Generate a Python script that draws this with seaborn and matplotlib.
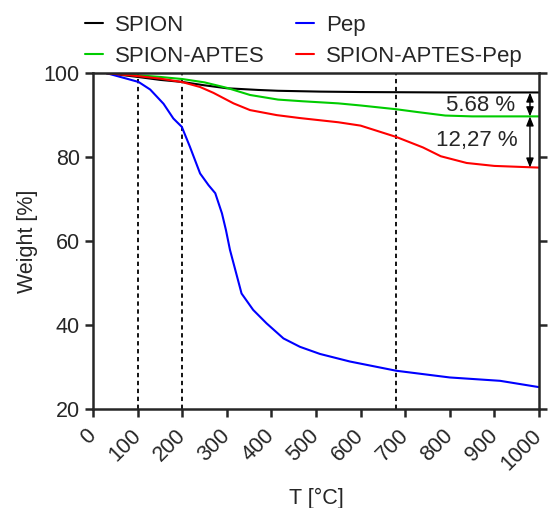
import matplotlib
matplotlib.use("Agg")
import matplotlib.pyplot as plt
import seaborn as sns
import pandas as pd

sns.set_style("ticks")
plt.rcParams['font.family'] = ['Liberation Sans', 'DejaVu Sans']

# Data
spion_T = [30, 100, 150, 200, 250, 300, 370, 415, 510, 600, 700, 800, 1000]
spion_W = [100, 99.1, 98.4, 97.9, 97.1, 96.4, 96.0, 95.8, 95.6, 95.5, 95.45, 95.4, 95.4]

aptes_T = [30, 100, 150, 200, 250, 277, 300, 352, 415, 470, 550, 600, 680, 730, 790, 850, 1000]
aptes_W = [100, 99.5, 99.1, 98.6, 97.8, 97.1, 96.5, 94.8, 93.7, 93.3, 92.8, 92.3, 91.4, 90.7, 89.9, 89.7, 89.7]

pep_T = [30, 68, 102, 128, 158, 180, 199, 217, 240, 259, 274, 289, 298, 307, 315, 333,
         359, 389, 427, 464, 509, 576, 680, 800, 913, 1000]
pep_W = [100, 98.9, 97.9, 96.1, 92.7, 89.2, 87.2, 82.5, 76.1, 73.3, 71.4, 66.6, 62.6, 57.9,
         54.7, 47.5, 43.6, 40.4, 36.8, 34.8, 33.1, 31.3, 29.1, 27.5, 26.7, 25.2]

red_T = [30, 100, 150, 199, 240, 270, 315, 352, 412, 464, 550, 600, 680, 740, 780, 838, 900, 1000]
red_W = [100, 99.3, 98.7, 97.9, 96.7, 95.3, 92.8, 91.2, 90.0, 89.3, 88.3, 87.5, 84.8, 82.3, 80.2, 78.6, 77.9, 77.5]

vlines_T = [100, 200, 680]
x_ticks = list(range(0, 1001, 100))
y_ticks = [20, 40, 60, 80, 100]
loss1_label = "5.68 %"
loss2_label = "12,27 %"
levels = [95.4, 89.7, 77.5]

series = [("SPION", spion_T, spion_W, "black"),
          ("SPION-APTES", aptes_T, aptes_W, "#00cc00"),
          ("Pep", pep_T, pep_W, "#0000ff"),
          ("SPION-APTES-Pep", red_T, red_W, "#ff0000")]

frames = []
for name, T, W, _ in series:
    frames.append(pd.DataFrame({"T": T, "W": W, "sample": name}))
df = pd.concat(frames, ignore_index=True)
palette = {name: c for name, _, _, c in series}

fig = plt.figure(figsize=(5.51, 5.08), dpi=100)
ax = fig.add_axes([0.169, 0.195, 0.809, 0.661])

sns.lineplot(data=df, x="T", y="W", hue="sample", palette=palette,
             hue_order=[s[0] for s in series], linewidth=1.5, ax=ax,
             sort=False, estimator=None)

for v in vlines_T:
    ax.axvline(v, color="black", linestyle=(0, (2.4, 2.0)), linewidth=1.3, zorder=0.5)

ax.set_xlim(0, 1000)
ax.set_ylim(20, 100)
ax.set_xticks(x_ticks)
ax.set_yticks(y_ticks)
ax.set_xticklabels([str(t) for t in x_ticks], rotation=45, ha="right", va="center",
                   rotation_mode="anchor")
ax.tick_params(axis="both", labelsize=15.5, width=1.8, length=6, direction="out")
ax.tick_params(axis="x", pad=11)
ax.tick_params(axis="y", right=True, left=True)
for s in ax.spines.values():
    s.set_linewidth(1.8)

ax.set_xlabel("T [°C]", fontsize=15.5, labelpad=10)
ax.set_ylabel("Weight [%]", fontsize=15.5, labelpad=4)

# annotations
arrow_kw = dict(arrowstyle="<|-|>,head_length=0.55,head_width=0.22", color="black",
                lw=1.0, shrinkA=0, shrinkB=0)
ax.annotate("", xy=(980, levels[1]), xytext=(980, levels[0]), arrowprops=arrow_kw)
ax.annotate("", xy=(980, levels[2]), xytext=(980, levels[1]), arrowprops=arrow_kw)
ax.text(870, 92.3, loss1_label, fontsize=16, ha="center", va="center")
ax.text(860, 84.0, loss2_label, fontsize=16, ha="center", va="center")

handles, labels = ax.get_legend_handles_labels()
ax.legend(handles, labels, ncol=2, frameon=False, fontsize=16,
          loc="upper left", bbox_to_anchor=(85 / 551, 1 - 15 / 508),
          bbox_transform=fig.transFigure, borderaxespad=0, borderpad=0,
          handlelength=0.8, handletextpad=0.55, columnspacing=1.4,
          labelspacing=0.45)

fig.savefig("out.png", dpi=100)
